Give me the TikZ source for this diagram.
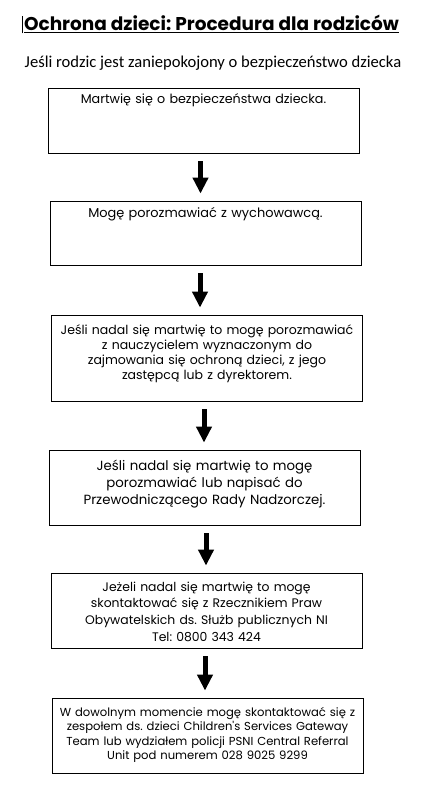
\documentclass[tikz,border=0pt]{standalone}
\usepackage{fontspec}
\usepackage{tikz}
\usetikzlibrary{arrows.meta,positioning}
\newfontfamily\gothic{Poppins}
\newfontfamily\calibri{Carlito}
\frenchspacing

\tikzstyle{stepbox} = [draw, line width=0.8pt, anchor=base, align=center, inner xsep=4pt, inner ysep=0pt, text width=303pt]
\tikzstyle{downarrow} = [line width=5pt, -{Triangle[width=15pt,length=16pt]}, shorten <=8pt, shorten >=7pt]

\begin{document}
\begin{tikzpicture}[x=1pt, y=-1pt]
        \useasboundingbox (0,0) rectangle (433,794);

        \node[anchor=base, inner sep=0pt, font=\gothic\bfseries\fontsize{18.5}{20}\selectfont] (title) at (211.5,31) {\underline{Ochrona dzieci: Procedura dla rodziców}};
        \draw[line width=0.5pt] ([xshift=-2pt]title.south west) -- ([xshift=-2pt,yshift=-1pt]title.north west);
        \node[anchor=base, font=\calibri\fontsize{16.6}{18}\selectfont] (sub) at (213,68) {Jeśli rodzic jest zaniepokojony o bezpieczeństwo dziecka};

        \node[stepbox, text height=16pt, text depth=49pt, font=\gothic\fontsize{12.7}{14}\selectfont] (b1) at (203.5,104) {Martwię się o bezpieczeństwa dziecka.};
        \node[stepbox, text height=17pt, text depth=47pt, font=\gothic\fontsize{12.9}{14}\selectfont] (b2) at (205.5,218) {Mogę porozmawiać z wychowawcą.};
        \node[stepbox, text height=19pt, text depth=67pt, font=\gothic\fontsize{12.5}{15}\selectfont] (b3) at (207,334) {Jeśli nadal się martwię to mogę porozmawiać\\ z nauczycielem wyznaczonym do\\ zajmowania się ochroną dzieci, z jego\\ zastępcą lub z dyrektorem.};
        \node[stepbox, text height=20pt, text depth=55pt, font=\gothic\fontsize{13.3}{17}\selectfont] (b4) at (204.5,470) {Jeśli nadal się martwię to mogę\\ porozmawiać lub napisać do\\ Przewodniczącego Rady Nadzorczej.};
        \node[stepbox, text height=18pt, text depth=57pt, font=\gothic\fontsize{12.4}{16.7}\selectfont] (b5) at (206.5,591) {Jeżeli nadal się martwię to mogę\\ skontaktować się z Rzecznikiem Praw\\ Obywatelskich ds. Służb publicznych NI\\ Tel: 0800 343 424};
        \node[stepbox, text height=18pt, text depth=57pt, font=\gothic\fontsize{11.6}{14.5}\selectfont] (b6) at (207.5,716) {W dowolnym momencie mogę skontaktować się z\\ zespołem ds. dzieci Children's Services Gateway\\ Team lub wydziałem policji PSNI Central Referral\\ Unit pod numerem 028 9025 9299};

        \draw[downarrow] ([xshift=-3pt]b1.south) -- ([xshift=-3pt]b1.south |- b2.north);
        \draw[downarrow] ([xshift=-5.5pt]b2.south) -- ([xshift=-5.5pt]b2.south |- b3.north);
        \draw[downarrow] ([xshift=-3pt]b3.south) -- ([xshift=-3pt]b3.south |- b4.north);
        \draw[downarrow] ([xshift=1.5pt]b4.south) -- ([xshift=1.5pt]b4.south |- b5.north);
        \draw[downarrow] ([xshift=-1.5pt]b5.south) -- ([xshift=-1.5pt]b5.south |- b6.north);
    \end{tikzpicture}
\end{document}
